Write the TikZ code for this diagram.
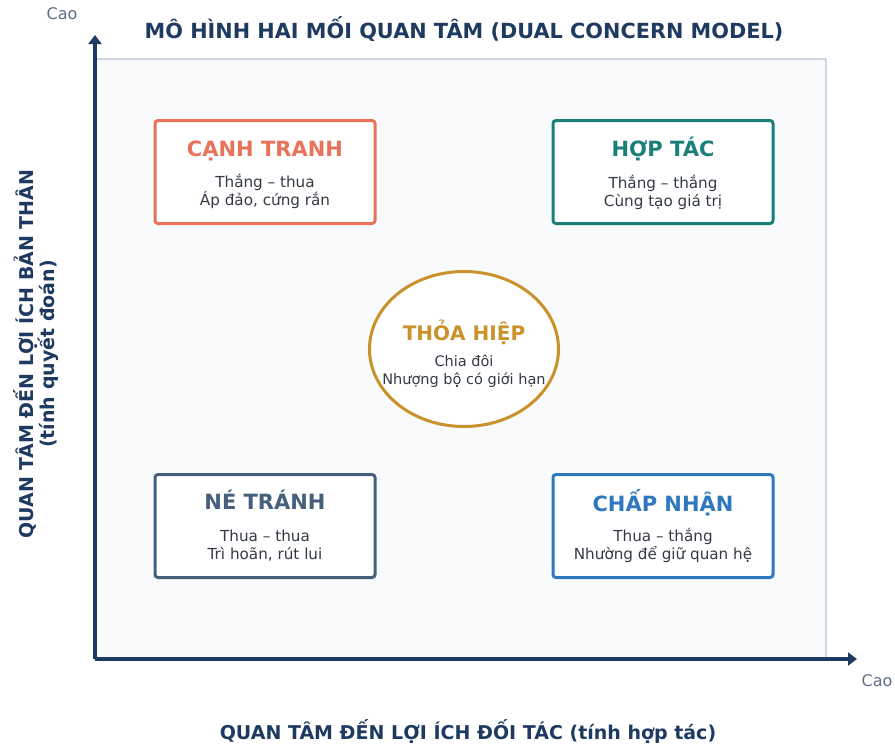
\documentclass[tikz,border=0pt]{standalone}
\usepackage{fontspec}
\setmainfont{DejaVu Sans}
\usepackage{tikz}
\usetikzlibrary{arrows.meta,shapes.geometric,positioning}
\definecolor{navy}{RGB}{31,58,96}
\definecolor{caogray}{RGB}{91,112,137}
\definecolor{plotbg}{RGB}{248,250,252}
\definecolor{plotline}{RGB}{205,215,227}
\definecolor{bodytext}{RGB}{51,58,70}
\definecolor{cRed}{RGB}{232,115,90}
\definecolor{cTeal}{RGB}{26,127,120}
\definecolor{cGold}{RGB}{201,146,43}
\definecolor{cSlate}{RGB}{69,95,125}
\definecolor{cBlue}{RGB}{47,120,192}
% title and two lines, baselines set from the centre of the shape
\newcommand{\quadtext}[8]{%
  \node[head=#2, anchor=base] (#1-head) at ([yshift=#6]#1.center) {#3};
  \node[body, anchor=base] (#1-one) at ([yshift=#7]#1.center) {#4};
  \node[body, anchor=base] (#1-two) at ([yshift=#8]#1.center) {#5};}

\begin{document}
\begin{tikzpicture}[x=1pt,y=-1pt,
  quad/.style={draw=#1, line width=3pt, rounded corners=3pt, fill=white,
    minimum width=220pt, minimum height=103pt, inner sep=0pt},
  head/.style={text=#1, inner sep=0pt, font=\bfseries\fontsize{21}{25}\selectfont},
  body/.style={text=bodytext, inner sep=0pt, font=\fontsize{15.2}{19}\selectfont},
  axis/.style={draw=navy, line width=3.5pt, -{Triangle[width=13pt,length=9pt]}},
  axislabel/.style={text=navy, font=\bfseries\fontsize{19}{21}\selectfont, align=center},
  cao/.style={text=caogray, font=\fontsize{16}{19}\selectfont}]
\useasboundingbox (0,0) rectangle (895,747);

% plot area
\draw[fill=plotbg, draw=plotline, line width=2pt] (95,59) rectangle (826,659);

% title
\node[text=navy, font=\bfseries\fontsize{20.8}{25}\selectfont] (title) at (464,29)
  {MÔ HÌNH HAI MỐI QUAN TÂM (DUAL CONCERN MODEL)};

% axes
\coordinate (origin) at (95,659);
\coordinate (ytip) at (95,35);
\coordinate (xtip) at (857,659);
\draw[axis] (origin) -- (ytip);
\draw[axis] (origin) -- (xtip);
\node[cao] (ycao) at (62,14) {Cao};
\node[cao] (xcao) at (877,681) {Cao};

\node[axislabel] (xlabel) at (468,731) {QUAN TÂM ĐẾN LỢI ÍCH ĐỐI TÁC (tính hợp tác)};
\node[axislabel, rotate=90] (ylabel) at (36,354)
  {QUAN TÂM ĐẾN LỢI ÍCH BẢN THÂN\\(tính quyết đoán)};

% four corners
\node[quad=cRed] (canhtranh) at (265,172) {};
\quadtext{canhtranh}{cRed}{CẠNH TRANH}{Thắng – thua}{Áp đảo, cứng rắn}{16pt}{-15.5pt}{-33.8pt}
\node[quad=cTeal] (hoptac) at (663,172) {};
\quadtext{hoptac}{cTeal}{HỢP TÁC}{Thắng – thắng}{Cùng tạo giá trị}{15.5pt}{-16pt}{-34.3pt}
\node[quad=cSlate] (netranh) at (265,526) {};
\quadtext{netranh}{cSlate}{NÉ TRÁNH}{Thua – thua}{Trì hoãn, rút lui}{17pt}{-15.5pt}{-33.3pt}
\node[quad=cBlue] (chapnhan) at (663,526) {};
\quadtext{chapnhan}{cBlue}{CHẤP NHẬN}{Thua – thắng}{Nhường để giữ quan hệ}{14.5pt}{-15.7pt}{-33.8pt}

% middle
\node[ellipse, draw=cGold, fill=white, line width=3pt, inner sep=0pt,
  minimum width=189pt, minimum height=155pt] (thoahiep) at (464,349) {};
\node[head=cGold, anchor=base, font=\bfseries\fontsize{20}{24}\selectfont]
  (thoahiep-head) at ([yshift=9pt]thoahiep.center) {THỎA HIỆP};
\node[body, anchor=base, font=\fontsize{14.5}{18}\selectfont]
  (thoahiep-one) at ([yshift=-17.5pt]thoahiep.center) {Chia đôi};
\node[body, anchor=base, font=\fontsize{14.5}{18}\selectfont]
  (thoahiep-two) at ([yshift=-35pt]thoahiep.center) {Nhượng bộ có giới hạn};
\end{tikzpicture}
\end{document}
